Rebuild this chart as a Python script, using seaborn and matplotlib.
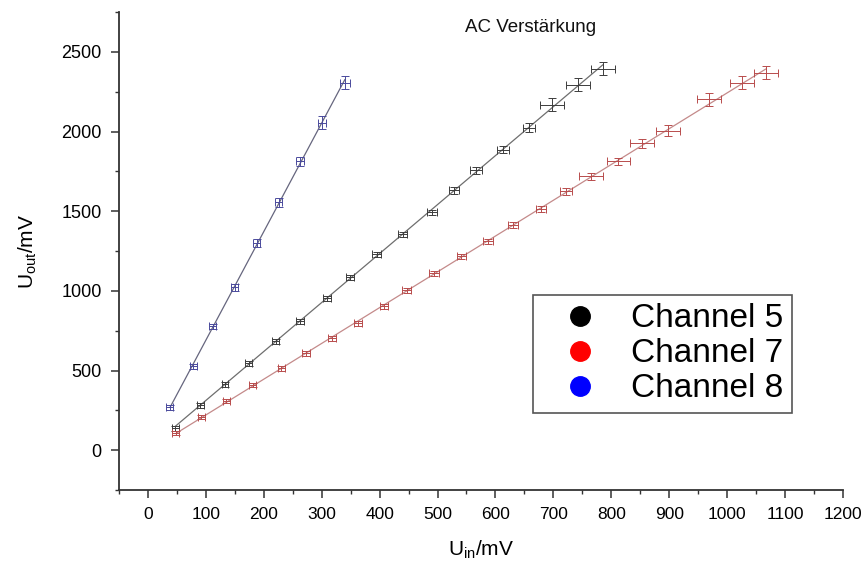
import numpy as np
import pandas as pd
import matplotlib
matplotlib.use("Agg")
import matplotlib.pyplot as plt
from matplotlib.lines import Line2D
from matplotlib.ticker import MultipleLocator
import seaborn as sns

# Channel 5 (black)
ch5_uin = [47, 90, 133, 174, 221, 262, 309, 349, 395, 440, 490, 528, 566, 613, 658, 698, 743, 786]
ch5_uout = [138, 282, 414, 545, 683, 809, 953, 1085, 1229, 1354, 1492, 1630, 1756, 1887, 2025, 2169, 2295, 2395]
ch5_xerr = [6, 6, 6, 6, 6, 7, 7, 7, 8, 8, 9, 9, 10, 10, 11, 21, 21, 21]
ch5_yerr = [15, 15, 15, 15, 15, 15, 16, 16, 17, 18, 18, 20, 20, 22, 30, 40, 40, 40]

# Channel 7 (red)
ch7_uin = [48, 92, 135, 181, 230, 273, 318, 363, 408, 447, 494, 541, 587, 630, 679, 722,
           765, 812, 853, 898, 969, 1026, 1067]
ch7_uout = [107, 207, 307, 408, 514, 608, 702, 796, 903, 1003, 1110, 1216, 1310, 1411, 1511, 1624,
            1718, 1812, 1925, 2006, 2201, 2307, 2370]
ch7_xerr = [6, 6, 6, 6, 6, 7, 7, 7, 7, 8, 8, 8, 9, 9, 9, 10, 20, 20, 21, 21, 21, 21, 20]
ch7_yerr = [14, 14, 14, 14, 15, 15, 15, 15, 16, 16, 17, 17, 18, 18, 19, 20, 22, 24, 28, 34, 40, 40, 40]

# Channel 8 (blue)
ch8_uin = [38, 78, 112, 150, 188, 226, 262, 300, 340]
ch8_uout = [270, 527, 777, 1022, 1298, 1555, 1812, 2056, 2307]
ch8_xerr = [6, 6, 6, 6, 6, 6, 7, 7, 8]
ch8_yerr = [15, 15, 18, 22, 25, 28, 30, 40, 40]

labels = ["Channel 5", "Channel 7", "Channel 8"]
bar_colors = ["#3c3c3c", "#b84c4c", "#4a4a9c"]
fit_colors = ["#6e6e6e", "#c48a8a", "#66667e"]
legend_colors = ["#000000", "#ff0000", "#0000ff"]


def main():
    sns.set_theme(style="ticks")
    plt.rcParams["font.family"] = ["Liberation Sans", "DejaVu Sans"]
    plt.rcParams["mathtext.fontset"] = "custom"
    plt.rcParams["mathtext.rm"] = "Liberation Sans"
    plt.rcParams["mathtext.it"] = "Liberation Sans"
    plt.rcParams["text.color"] = "black"
    plt.rcParams["axes.labelcolor"] = "black"
    plt.rcParams["xtick.labelcolor"] = "black"
    plt.rcParams["ytick.labelcolor"] = "black"

    series = [
        (ch5_uin, ch5_uout, ch5_xerr, ch5_yerr),
        (ch7_uin, ch7_uout, ch7_xerr, ch7_yerr),
        (ch8_uin, ch8_uout, ch8_xerr, ch8_yerr),
    ]

    fig = plt.figure(figsize=(8.66, 5.67), dpi=100)
    ax = fig.add_axes([0.1374, 0.1358, 0.836, 0.843])

    for (x, y, xe, ye), bc, fc, lab in zip(series, bar_colors, fit_colors, labels):
        df = pd.DataFrame({"Uin": x, "Uout": y})
        sns.regplot(data=df, x="Uin", y="Uout", ax=ax, scatter=False, ci=None,
                    color=fc, line_kws={"lw": 0.9, "zorder": 1})
        ax.errorbar(x, y, xerr=xe, yerr=ye, fmt="none", ecolor=bc, elinewidth=0.7,
                    capsize=2.8, capthick=0.7, zorder=2)

    ax.set_xlim(-50, 1200)
    ax.set_ylim(-250, 2750)
    ax.xaxis.set_minor_locator(MultipleLocator(50))
    ax.yaxis.set_minor_locator(MultipleLocator(250))
    ax.set_xticks(np.arange(0, 1201, 100))
    ax.set_yticks(np.arange(0, 2501, 500))

    for side in ["top", "right"]:
        ax.spines[side].set_visible(False)
    for side in ["left", "bottom"]:
        ax.spines[side].set_linewidth(1.3)
        ax.spines[side].set_color("#333333")

    ax.tick_params(axis="both", which="major", direction="out", length=5.5, width=1.1,
                   color="#333333")
    ax.tick_params(axis="both", which="minor", direction="out", length=3, width=1.0,
                   color="#333333")
    ax.tick_params(axis="y", which="major", labelsize=13, pad=7)
    ax.tick_params(axis="x", which="major", labelsize=12.5, pad=7)

    ax.set_xlabel(r"U$_{\mathrm{in}}$/mV", fontsize=15, labelpad=12)
    ax.set_ylabel(r"U$_{\mathrm{out}}$/mV", fontsize=15, labelpad=16)

    ax.text(0.568, 0.968, "AC Verstärkung", transform=ax.transAxes, fontsize=13.5,
            ha="center", va="center", color="#111111")

    handles = [Line2D([], [], ls="none", marker="o", markersize=14, color=c) for c in legend_colors]
    leg = ax.legend(handles, labels, loc="upper left", bbox_to_anchor=(0.572, 0.408),
                    borderaxespad=0, fontsize=24, frameon=True, fancybox=False,
                    handletextpad=0.4, borderpad=0.25, labelspacing=0.12, handlelength=2.3)
    leg.get_frame().set_edgecolor("#555555")
    leg.get_frame().set_linewidth(1.2)
    leg.get_frame().set_alpha(1)

    fig.savefig("out.png", dpi=100)


if __name__ == "__main__":
    main()
